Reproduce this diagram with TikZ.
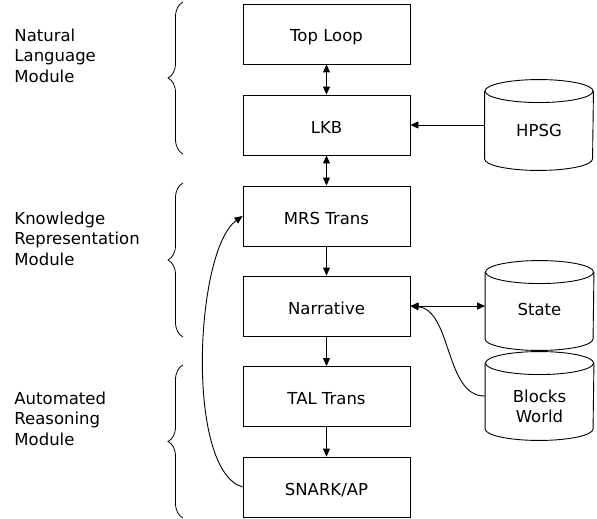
\documentclass[tikz,border=0pt]{standalone}
\usepackage{fontspec}
\setmainfont{DejaVu Sans}
\usetikzlibrary{arrows.meta,decorations.pathreplacing}
\newcommand\drawcyl[1]{%
  \draw ([yshift=-11.5pt]#1.north west) -- ([yshift=11.5pt]#1.south west)
     arc[start angle=180, end angle=360, x radius=54pt, y radius=11.5pt]
     -- ([yshift=-11.5pt]#1.north east);
  \draw ([yshift=-11.5pt]#1.north) ellipse[x radius=54pt, y radius=11.5pt];
}
\begin{document}
\begin{tikzpicture}[x=1pt,y=-1pt,line width=0.9pt,
  font=\fontsize{16.5}{20.5}\selectfont,
  boxnode/.style={draw, minimum width=167pt, minimum height=60pt, inner sep=0pt, text height=16pt, text depth=0pt},
  cylbody/.style={minimum width=108pt, minimum height=89pt, inner sep=0pt},
  txt/.style={inner sep=0pt, anchor=base, align=center},
  lbl/.style={inner sep=0pt, anchor=base west, align=left},
  arr/.style={-{Triangle[length=8pt,width=7pt]}},
  darr/.style={{Triangle[length=8pt,width=7pt]}-{Triangle[length=8pt,width=7pt]}},
  brc/.style={decorate, decoration={brace, amplitude=15pt}, line width=0.8pt},
]
\useasboundingbox (0,0) rectangle (597,519);

% main boxes
\node[boxnode] (top)   at (326.5,34)    {Top Loop};
\node[boxnode] (lkb)   at (326.5,125)   {LKB};
\node[boxnode] (mrs)   at (326.5,216)   {MRS Trans};
\node[boxnode] (narr)  at (326.5,306)   {Narrative};
\node[boxnode] (tal)   at (326.5,396.5) {TAL Trans};
\node[boxnode] (snark) at (326.5,487)   {SNARK/AP};

% cylinders
\node[cylbody, minimum height=90pt] (hpsg)  at (539,125)   {};
\node[cylbody] (state) at (539.5,305.5) {};
\node[cylbody, minimum height=88pt] (bw)    at (539.5,396)  {};
\drawcyl{hpsg}
\drawcyl{state}
\drawcyl{bw}
\node[txt] (hpsgt)  at (539,136)   {HPSG};
\node[txt] (statet) at (539.5,315) {State};
\node[txt] (bwt)    at (539.5,422.5) {Blocks\\World};

% connectors
\draw[darr] (top) -- (lkb);
\draw[darr] (lkb) -- (mrs);
\draw[arr] (mrs) -- (narr);
\draw[arr] (narr) -- (tal);
\draw[arr] (tal) -- (snark);
\draw[arr] (hpsg.west) -- (lkb.east);
\draw[darr] (narr.east) -- (narr.east -| state.west);
\draw[arr] (bw.west) .. controls (445,397) and (452,310) .. (narr.east);
\draw[arr] (snark.west) .. controls (185,470) and (195,250) .. (mrs.west);

% braces
\draw[brc] (183,154) -- (183,2);
\draw[brc] (183,337) -- (183,183);
\draw[brc] (183,518) -- (183,365);

% module labels
\node[lbl] (nlm) at (14,82)  {Natural\\Language\\Module};
\node[lbl] (krm) at (14,265) {Knowledge\\Representation\\Module};
\node[lbl] (arm) at (14,445) {Automated\\Reasoning\\Module};
\end{tikzpicture}
\end{document}
